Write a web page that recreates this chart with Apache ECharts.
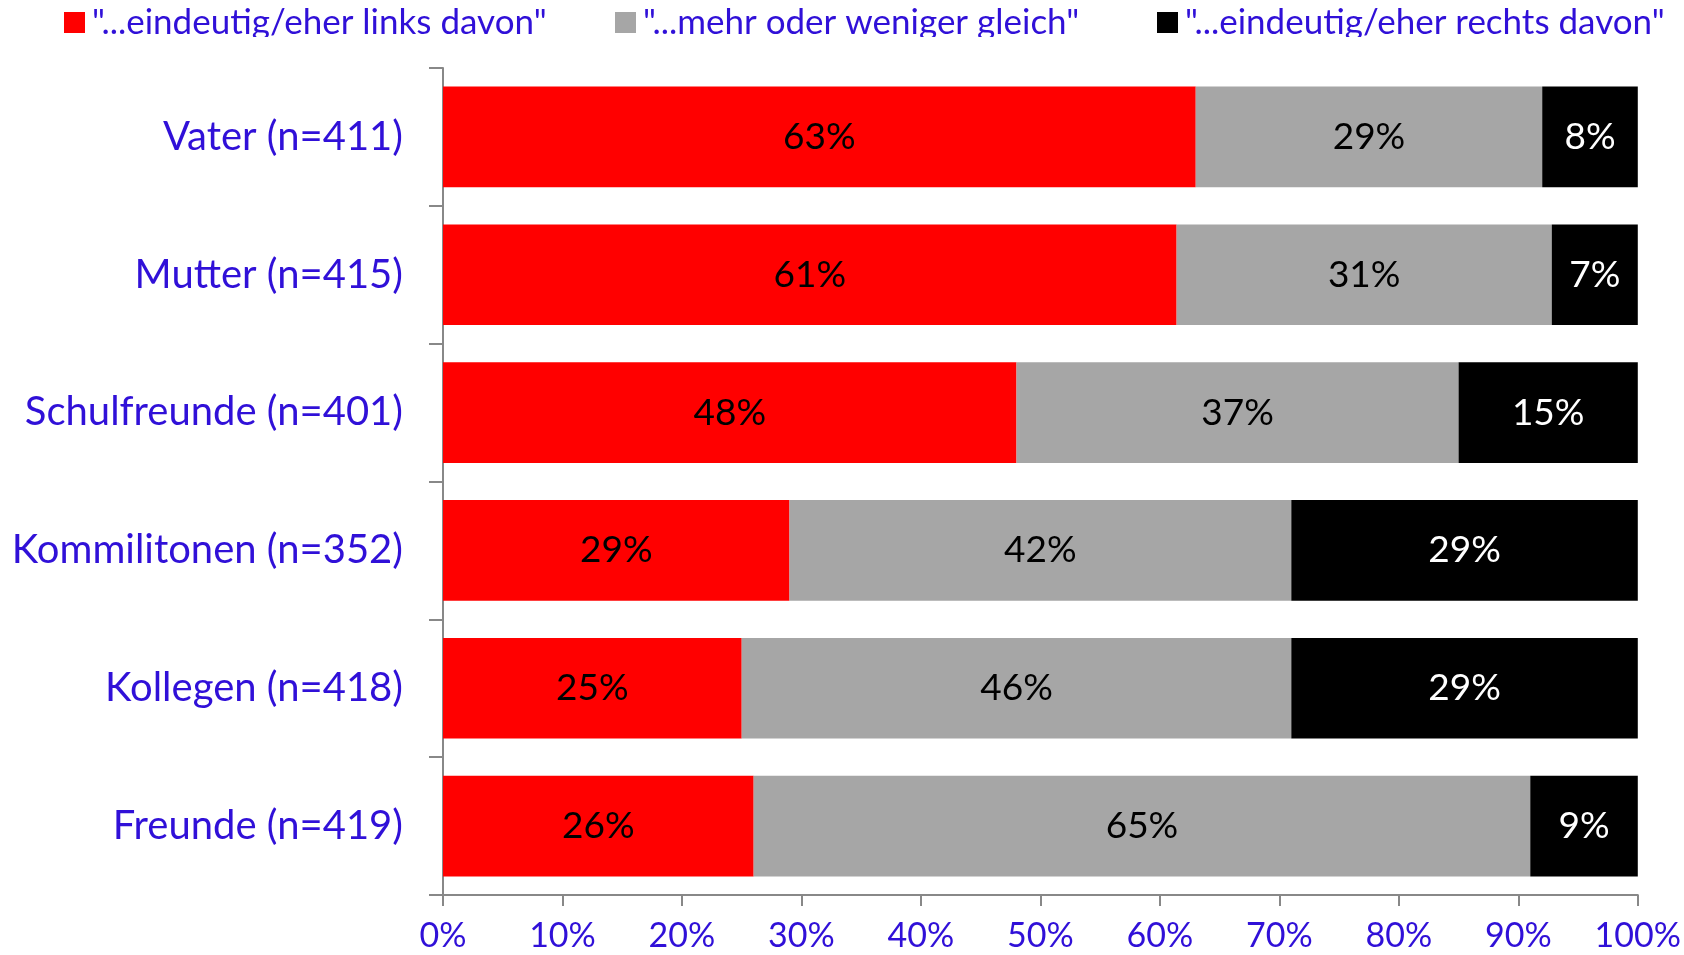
<!DOCTYPE html>
<html><head><meta charset="utf-8">
<script src="https://cdn.jsdelivr.net/npm/echarts@6/dist/echarts.min.js"></script>
<style>html,body{margin:0;padding:0;background:#fff}#c{width:1684px;height:955px}</style>
</head><body><div id="c"></div>
<script>
const categories = ['Vater (n=411)','Mutter (n=415)','Schulfreunde (n=401)','Kommilitonen (n=352)','Kollegen (n=418)','Freunde (n=419)'];
const seriesNames = ['"...eindeutig/eher links davon"','"...mehr oder weniger gleich"','"...eindeutig/eher rechts davon"'];
const links = [63, 61.4, 48, 29, 25, 26];
const gleich = [29, 31.4, 37, 42, 46, 65];
const rechts = [8, 7.2, 15, 29, 29, 9];
const xTicks = [0,10,20,30,40,50,60,70,80,90,100];

const BLUE = '#3010d8';
const FONT = 'Lato';
const colors = ['#ff0000','#a6a6a6','#000000'];
const labelColors = ['#000','#000','#fff'];
const chart = echarts.init(document.getElementById('c'));
const mk = (i, data) => ({
  name: seriesNames[i], type: 'bar', stack: 'a', data: data,
  barCategoryGap: '27%',
  itemStyle: {color: colors[i]},
  label: {show: true, position: 'inside', color: labelColors[i], fontFamily: FONT, fontSize: 37,
    formatter: p => Math.round(p.value) + '%'}
});
const legendBase = {top: 0, itemWidth: 21, itemHeight: 21, icon: 'rect', itemGap: 8,
  textStyle: {color: BLUE, fontFamily: FONT, fontSize: 35, padding: [0, 0, 10, 2]}};
chart.setOption({
  animation: false,
  legend: [
    Object.assign({}, legendBase, {left: 59, data: [seriesNames[0]]}),
    Object.assign({}, legendBase, {left: 610, data: [seriesNames[1]]}),
    Object.assign({}, legendBase, {left: 1152, data: [seriesNames[2]]})
  ],
  graphic: [{type: 'rect', left: 0, top: 37, shape: {width: 1684, height: 22}, style: {fill: '#fff'}, z: 100}],
  grid: {left: 443, right: 29, top: 68, bottom: 60},
  xAxis: {type: 'value', min: 0, max: 100, interval: 10,
    axisLine: {show: true, lineStyle: {color: '#888', width: 2}},
    axisTick: {show: true, length: 11, lineStyle: {color: '#888', width: 2}},
    splitLine: {show: false},
    axisLabel: {color: BLUE, fontFamily: FONT, fontSize: 34, margin: 24,
      formatter: v => xTicks.includes(v) ? v + '%' : ''}},
  yAxis: {type: 'category', data: categories, inverse: true,
    axisLine: {show: true, lineStyle: {color: '#888', width: 2}},
    axisTick: {show: true, length: 14, lineStyle: {color: '#888', width: 2}},
    axisLabel: {color: BLUE, fontFamily: FONT, fontSize: 40, margin: 40}},
  series: [mk(0, links), mk(1, gleich), mk(2, rechts)]
});
</script></body></html>
